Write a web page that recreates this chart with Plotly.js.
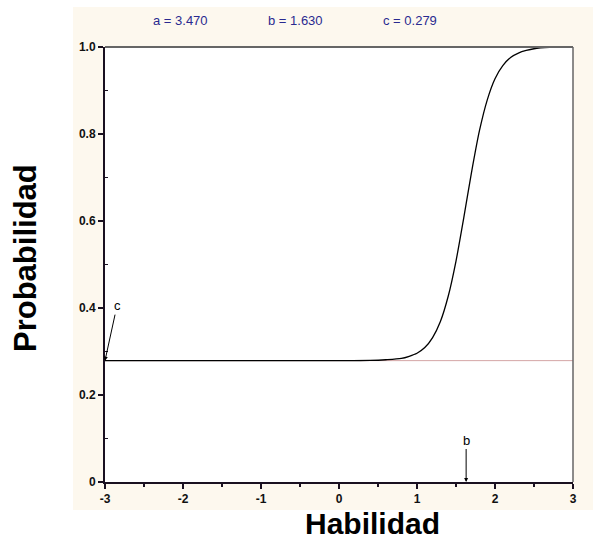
<!DOCTYPE html>
<html>
<head>
<meta charset="utf-8">
<script src="https://cdn.plot.ly/plotly-3.0.1.min.js"></script>
<style>html,body{margin:0;padding:0;background:#fff;}#chart{width:593px;height:542px;}</style>
</head>
<body>
<div id="chart"></div>
<script>
// Values
var habilidad = [-3, -2.5, -2, -1.5, -1, -0.5, 0, 0.4, 0.6, 0.8, 0.9, 1.0, 1.1, 1.2, 1.3, 1.4, 1.5, 1.6, 1.7, 1.8, 1.9, 2.0, 2.1, 2.2, 2.3, 2.4, 2.5, 2.7, 3.0];
var probabilidad = [0.279, 0.279, 0.279, 0.279, 0.279, 0.279, 0.279, 0.2795, 0.281, 0.284, 0.289, 0.296, 0.309, 0.332, 0.369, 0.427, 0.508, 0.608, 0.713, 0.807, 0.878, 0.927, 0.957, 0.976, 0.986, 0.992, 0.996, 0.999, 1.0];
var cLineX = [-3, 3];
var cLineY = [0.279, 0.279];
var xTickVals = [-3, -2, -1, 0, 1, 2, 3];
var xTickText = ["-3", "-2", "-1", "0", "1", "2", "3"];
var yTickVals = [0, 0.2, 0.4, 0.6, 0.8, 1.0];
var yTickText = ["0", "0.2", "0.4", "0.6", "0.8", "1.0"];
var paramA = "a = 3.470", paramB = "b = 1.630", paramC = "c = 0.279";
var bValue = 1.630, cValue = 0.279;

var FAM = 'Arial, "Liberation Sans", sans-serif';
var traces = [
  {x: cLineX, y: cLineY, mode: 'lines', line: {color: '#d4a5a5', width: 1}, hoverinfo: 'skip', showlegend: false},
  {x: habilidad, y: probabilidad, mode: 'lines', line: {color: '#000000', width: 1.3, shape: 'spline', smoothing: 0.8}, showlegend: false}
];

var layout = {
  width: 593, height: 542,
  margin: {l: 105, r: 20, t: 47, b: 60},
  paper_bgcolor: '#ffffff', plot_bgcolor: '#ffffff',
  font: {family: FAM},
  xaxis: {range: [-3, 3], tickvals: xTickVals, ticktext: xTickText, showgrid: false, zeroline: false,
    showline: true, linecolor: '#1a1020', linewidth: 2, ticks: 'outside', ticklen: 5, tickwidth: 1.5, tickcolor: '#1a1020',
    tickfont: {family: FAM, size: 12, color: '#111', weight: 'bold'},
    minor: {dtick: 0.5, ticks: 'outside', ticklen: 3, tickwidth: 1.5, tickcolor: '#1a1020', showgrid: false}},
  yaxis: {range: [0, 1], tickvals: yTickVals, ticktext: yTickText, showgrid: false, zeroline: false,
    showline: true, linecolor: '#1a1020', linewidth: 2, ticks: 'outside', ticklen: 5, tickwidth: 1.5, tickcolor: '#1a1020',
    tickfont: {family: FAM, size: 12, color: '#111', weight: 'bold'},
    minor: {tickvals: [0.1, 0.3, 0.5, 0.7, 0.9], ticks: 'inside', ticklen: 3, tickwidth: 1.5, tickcolor: '#1a1020', showgrid: false}},
  shapes: [
    {type: 'rect', xref: 'paper', yref: 'paper', x0: -0.0684, x1: 1.05, y0: -0.0644, y1: 1.092, fillcolor: '#fdf8ee', line: {width: 0}, layer: 'below'},
    {type: 'rect', xref: 'paper', yref: 'paper', x0: 0, x1: 1, y0: 0, y1: 1, fillcolor: '#ffffff', line: {width: 0}, layer: 'below'},
    {type: 'line', xref: 'paper', yref: 'paper', x0: 0, x1: 1, y0: 1, y1: 1, line: {color: '#666666', width: 2}},
    {type: 'line', xref: 'paper', yref: 'paper', x0: 1, x1: 1, y0: 0, y1: 1, line: {color: '#666666', width: 1.5}}
  ],
  annotations: [
    {xref: 'paper', yref: 'paper', x: (180 - 105) / 468, y: (482 - 20) / 435, text: paramA, showarrow: false, xanchor: 'center', yanchor: 'middle', font: {family: FAM, size: 13, color: '#2a2a90'}},
    {xref: 'paper', yref: 'paper', x: (295 - 105) / 468, y: (482 - 20) / 435, text: paramB, showarrow: false, xanchor: 'center', yanchor: 'middle', font: {family: FAM, size: 13, color: '#2a2a90'}},
    {xref: 'paper', yref: 'paper', x: (410 - 105) / 468, y: (482 - 20) / 435, text: paramC, showarrow: false, xanchor: 'center', yanchor: 'middle', font: {family: FAM, size: 13, color: '#2a2a90'}},
    {xref: 'x', yref: 'y', x: -3, y: cValue, text: 'c', showarrow: true, ax: 12, ay: -55, arrowhead: 2, arrowsize: 0.8, arrowwidth: 1, arrowcolor: '#000', standoff: 0, font: {family: FAM, size: 13, color: '#000'}},
    {xref: 'x', yref: 'y', x: bValue, y: 0, text: 'b', showarrow: true, ax: 0, ay: -42, arrowhead: 2, arrowsize: 0.8, arrowwidth: 1, arrowcolor: '#000', standoff: 0, font: {family: FAM, size: 13, color: '#000'}},
    {xref: 'paper', yref: 'paper', x: (372 - 105) / 468, y: (482 - 541) / 435, text: '<b>Habilidad</b>', showarrow: false, xanchor: 'center', yanchor: 'bottom', borderpad: 0, font: {family: FAM, size: 30, color: '#000'}},
    {xref: 'paper', yref: 'paper', x: (25 - 105) / 468, y: (482 - 258) / 435, text: '<b>Probabilidad</b>', textangle: -90, showarrow: false, xanchor: 'center', yanchor: 'middle', font: {family: FAM, size: 31, color: '#000'}}
  ]
};
Plotly.newPlot('chart', traces, layout, {staticPlot: true, displayModeBar: false});
</script>
</body>
</html>
